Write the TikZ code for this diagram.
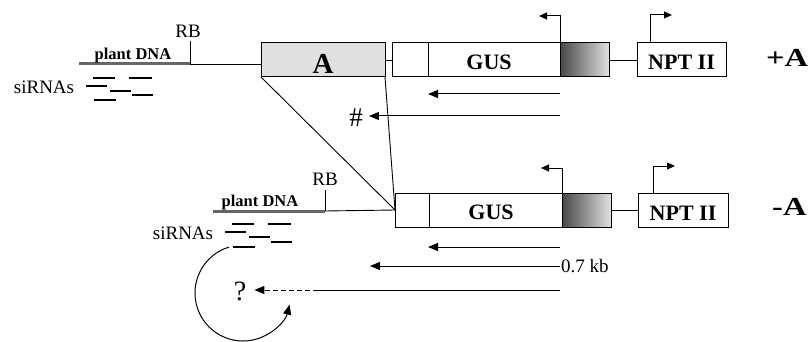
\documentclass[tikz,border=0pt]{standalone}
\usepackage{fontspec}
\setmainfont{Liberation Serif}
\newfontfamily\widefont{Liberation Serif}[FakeStretch=1.25]
\usetikzlibrary{arrows.meta,calc,positioning}

\tikzset{
  genebox/.style={draw,line width=1pt,minimum height=34pt,inner sep=0pt,outer sep=0pt,anchor=north west,
    text height=20pt,font=\bfseries\fontsize{22}{22}\selectfont},
  shadebox/.style={genebox,left color=black!72,right color=black!12},
  link/.style={line width=0.9pt},
  plantdna/.style={line width=3pt,black!60},
  sirna/.style={line width=2.2pt},
  transcript/.style={line width=1pt,-{Triangle[length=10pt,width=8pt]}},
  promoter/.style={line width=1pt,-{Triangle[length=8pt,width=7pt]}},
  lbl/.style={inner sep=0pt,font=\fontsize{19}{19}\selectfont},
  marklbl/.style={inner sep=0pt,font=\fontsize{27}{27}\selectfont},
  dnalbl/.style={inner sep=0pt,anchor=base,font=\bfseries\fontsize{16.5}{16.5}\selectfont},
  biglbl/.style={inner sep=0pt,anchor=base west,font=\widefont\bfseries\fontsize{26}{26}\selectfont},
}

\begin{document}
\begin{tikzpicture}[x=1pt,y=-1pt]
  \useasboundingbox (0,0) rectangle (811,342);
  % construct +A
  \node[genebox,fill=black!12,minimum width=124pt,text height=28pt,
    font=\bfseries\fontsize{29}{29}\selectfont] (boxA) at (261,43) {A};
  \node[genebox,minimum width=36pt] (lead1) at (392,43) {};
  \node[genebox,minimum width=132pt,right=0pt of lead1] (gus1) {GUS\hspace*{10pt}};
  \node[shadebox,minimum width=49pt,right=0pt of gus1] (term1) {};
  \node[genebox,minimum width=89pt,right=28pt of term1] (npt1) {NPT II};
  \draw[link] (boxA.east) -- (lead1.west);
  \draw[link] (term1.east) -- (npt1.west);
  \node[biglbl] (plusA) at (766,67) {+A};
  % construct -A
  \node[genebox,minimum width=34pt] (lead2) at (395,193) {};
  \node[genebox,minimum width=133pt,right=0pt of lead2] (gus2) {GUS\hspace*{9pt}};
  \node[shadebox,minimum width=49pt,right=0pt of gus2] (term2) {};
  \node[genebox,minimum width=90pt,right=27pt of term2] (npt2) {NPT II};
  \draw[link] (term2.east) -- (npt2.west);
  \node[biglbl] (minusA) at (772,215) {-A};
  \draw[link] (boxA.south west) -- (lead2.west);
  \draw[link] (boxA.south east) -- (lead2.west);
  % promoters
  \draw[promoter] (gus1.north east) -- ++(0,-27) -- ++(-21,0);
  \draw[promoter] ([xshift=13pt]npt1.north west) -- ++(0,-28) -- ++(22,0);
  \draw[promoter] (gus2.north east) -- ++(0,-25) -- ++(-21,0);
  \draw[promoter] ([xshift=15pt]npt2.north west) -- ++(0,-27) -- ++(22,0);
  % plant DNA and RB
  \coordinate (dna1) at (79,64);
  \coordinate (rb1) at (190,64);
  \coordinate (dna2) at (213,211);
  \coordinate (rb2) at (325,211);
  \draw[plantdna] (dna1) -- (rb1);
  \draw[plantdna] (dna2) -- (rb2);
  \draw[link] (rb1) -- (boxA.west |- rb1);
  \draw[link] (rb2) -- (lead2.west);
  \draw[link] (rb1) -- ++(0,-23);
  \draw[link] (rb2) -- ++(0,-21);
  \node[lbl,anchor=base] (rblbl1) at (188,38) {RB};
  \node[lbl,anchor=base] (rblbl2) at (325,185) {RB};
  \node[dnalbl] (dnalbl1) at (133,60) {plant DNA};
  \node[dnalbl] (dnalbl2) at (260,206) {plant DNA};
  % siRNAs
  \node[lbl,anchor=base] (si1) at (44,94) {siRNAs};
  \node[lbl,anchor=base] (si2) at (183,239) {siRNAs};
  \coordinate (sir1) at (86,77.7);
  \coordinate (sir2) at (225,224.3);
  \foreach \s in {sir1,sir2}{
    \foreach \dx/\dy/\len in {7/0/22,43/0/23,0/8/21,24/13/21,46/17.3/21,8/22.3/22}{
      \draw[sirna] ($(\s)+(\dx,\dy)$) -- ++(\len,0);
    }
  }
  % transcripts
  \coordinate (tr1) at (560,94);
  \coordinate (tr1e) at (428,94);
  \draw[transcript] (tr1) -- (tr1e);
  \node[marklbl] (hash) at (356,118) {\#};
  \coordinate (tr2) at (560,116);
  \draw[transcript,shorten >=6pt] (tr2) -- (tr2 -| hash.east);
  \coordinate (tr3) at (560,247);
  \coordinate (tr3e) at (428,247);
  \draw[transcript] (tr3) -- (tr3e);
  \node[lbl,anchor=west,inner xsep=1pt] (kb) at (560,266) {0.7 kb};
  \coordinate (tr4e) at (370,266);
  \draw[transcript] (kb.west) -- (tr4e);
  \node[marklbl,font=\fontsize{28}{28}\selectfont] (quest) at (240,291) {?};
  \coordinate (tr5) at (560,290);
  \coordinate (tr5m) at (318,290);
  \draw[link] (tr5) -- (tr5m);
  \draw[transcript,dash pattern=on 5pt off 3pt,shorten >=8pt] (tr5m) -- (tr5m -| quest.east);
  % amplification loop
  \coordinate (loopc) at (243,293);
  \draw[transcript] ([shift={(253:48)}]loopc) arc[start angle=253,end angle=14,radius=48];
\end{tikzpicture}
\end{document}
